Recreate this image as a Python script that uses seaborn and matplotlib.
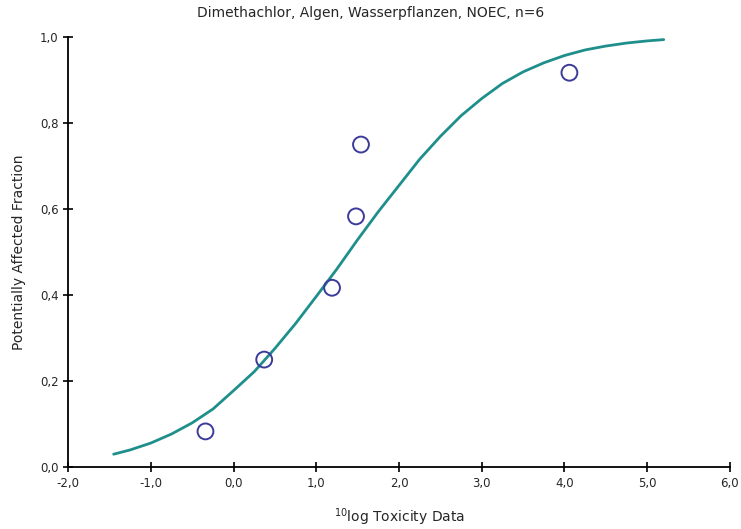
import numpy as np
import matplotlib
matplotlib.use("Agg")
import matplotlib.pyplot as plt
import pandas as pd
import seaborn as sns

# observed NOEC values (10log) and their plotting positions
tox_log = [-0.34, 0.37, 1.19, 1.48, 1.54, 4.06]
paf = [0.083, 0.25, 0.417, 0.583, 0.75, 0.917]

# fitted curve
curve_x = [-1.45, -1.25, -1.0, -0.75, -0.5, -0.25, 0.0, 0.25, 0.5, 0.75, 1.0, 1.25, 1.5, 1.75,
           2.0, 2.25, 2.5, 2.75, 3.0, 3.25, 3.5, 3.75, 4.0, 4.25, 4.5, 4.75, 5.0, 5.2]
curve_y = [0.030, 0.040, 0.056, 0.077, 0.103, 0.135, 0.178, 0.222, 0.276, 0.334, 0.397, 0.461,
           0.529, 0.594, 0.655, 0.716, 0.769, 0.817, 0.857, 0.892, 0.919, 0.940, 0.957, 0.970,
           0.979, 0.986, 0.991, 0.994]

x_ticks = [-2, -1, 0, 1, 2, 3, 4, 5, 6]
x_tick_labels = ["-2,0", "-1,0", "0,0", "1,0", "2,0", "3,0", "4,0", "5,0", "6,0"]
y_ticks = [0.0, 0.2, 0.4, 0.6, 0.8, 1.0]
y_tick_labels = ["0,0", "0,2", "0,4", "0,6", "0,8", "1,0"]

sns.set_style("ticks")
plt.rcParams['font.family'] = ['DejaVu Sans']
plt.rcParams['font.size'] = 9

df_pts = pd.DataFrame({"x": tox_log, "y": paf})
df_curve = pd.DataFrame({"x": curve_x, "y": curve_y})

fig = plt.figure(figsize=(7.41, 5.29), dpi=100)
ax = fig.add_axes([0.092, 0.117, 0.893, 0.813])

sns.lineplot(data=df_curve, x="x", y="y", ax=ax, color="#1f8f8c", linewidth=2.0)
sns.scatterplot(data=df_pts, x="x", y="y", ax=ax, marker="o", s=130,
                facecolor="none", edgecolor="#3b3b99", linewidth=1.4, zorder=3)

ax.set_xlim(-2, 6)
ax.set_ylim(0, 1.0)
ax.set_xticks(x_ticks)
ax.set_xticklabels(x_tick_labels, fontsize=8.5)
ax.set_yticks(y_ticks)
ax.set_yticklabels(y_tick_labels, fontsize=8.5)
ax.tick_params(axis="both", direction="inout", length=7, width=1.2, color="black")
for side in ["top", "right"]:
    ax.spines[side].set_visible(False)
for side in ["left", "bottom"]:
    ax.spines[side].set_linewidth(1.3)
    ax.spines[side].set_color("black")

ax.set_xlabel("$^{10}$log Toxicity Data", fontsize=10, labelpad=12)
ax.set_ylabel("Potentially Affected Fraction", fontsize=10, labelpad=10)
fig.text(0.5, 0.975, "Dimethachlor, Algen, Wasserpflanzen, NOEC, n=6", ha="center", va="center", fontsize=10)

fig.savefig("out.png", dpi=100)
